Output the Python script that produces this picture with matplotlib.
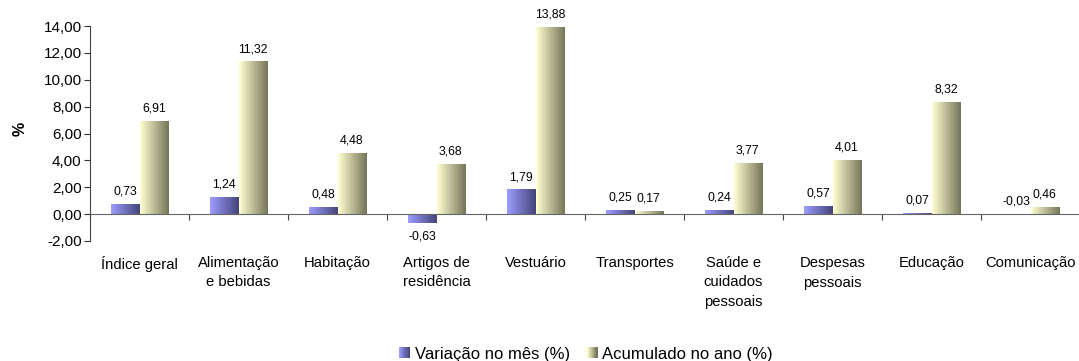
import matplotlib
matplotlib.use("Agg")
import matplotlib.pyplot as plt
import numpy as np
from matplotlib.colors import LinearSegmentedColormap, to_rgb
from matplotlib.patches import Rectangle
from matplotlib.legend_handler import HandlerBase
import matplotlib.transforms as mtransforms

plt.rcParams['font.family'] = ['Liberation Sans', 'DejaVu Sans']

categories = ["Índice geral", "Alimentação\ne bebidas", "Habitação", "Artigos de\nresidência",
              "Vestuário", "Transportes", "Saúde e\ncuidados\npessoais", "Despesas\npessoais",
              "Educação", "Comunicação"]
variacao_mes = [0.73, 1.24, 0.48, -0.63, 1.79, 0.25, 0.24, 0.57, 0.07, -0.03]
acumulado_ano = [6.91, 11.32, 4.48, 3.68, 13.88, 0.17, 3.77, 4.01, 8.32, 0.46]
series_names = ["Variação no mês (%)", "Acumulado no ano (%)"]
yticks = [-2, 0, 2, 4, 6, 8, 10, 12, 14]

blue_grad = ("#9C9CFF", "#45457A")
yellow_grad = ("#FFFFD2", "#75755A")

W, H = 1079, 361
fig = plt.figure(figsize=(W/100, H/100), dpi=100)
ax = fig.add_axes([90/W, 1-241/H, 990/W, (241-26)/H])

x = np.arange(len(categories))
bw = 0.29

def fmt(v):
    return f"{v:.2f}".replace(".", ",")

def grad_bars(xpos, vals, cols):
    bars = ax.bar(xpos, vals, width=bw, facecolor='none', edgecolor='none', zorder=2)
    cmap = LinearSegmentedColormap.from_list("g", list(cols))
    grad = np.linspace(0, 1, 64).reshape(1, -1)
    for b in bars:
        x0, w = b.get_x(), b.get_width()
        y0, h = b.get_y(), b.get_height()
        ax.imshow(grad, cmap=cmap, extent=[x0, x0 + w, min(y0, y0 + h), max(y0, y0 + h)],
                  aspect='auto', interpolation='bilinear', zorder=2)
    return bars

b1 = grad_bars(x - bw/2, variacao_mes, blue_grad)
b2 = grad_bars(x + bw/2, acumulado_ano, yellow_grad)

ax.set_xlim(-0.5, len(categories) - 0.5)
ax.set_ylim(-2, 14)
ax.set_yticks(yticks)
ax.set_yticklabels([fmt(v) for v in yticks], fontsize=11)
ax.tick_params(axis='y', direction='out', length=4, width=0.8, pad=2, colors='#333333')
ax.tick_params(axis='y', labelcolor='black')

for s in ['top', 'right']:
    ax.spines[s].set_visible(False)
ax.spines['left'].set_color('#444444')
ax.spines['bottom'].set_position(('data', 0))
ax.spines['bottom'].set_color('#666666')
ax.spines['bottom'].set_zorder(3)
ax.set_xticks(np.arange(-0.5, len(categories)), minor=False)
ax.set_xticklabels([])
ax.tick_params(axis='x', direction='out', length=4, width=0.8, colors='#444444')

# category labels
trans = mtransforms.blended_transform_factory(ax.transData, fig.transFigure)
for i, c in enumerate(categories):
    ax.text(i, 1 - 256/H, c, transform=trans, ha='center', va='top', fontsize=10.6,
            linespacing=1.5, clip_on=False)

# data labels
for xs, vals in [(x - bw/2, variacao_mes), (x + bw/2, acumulado_ano)]:
    for xi, v in zip(xs, vals):
        if v >= -0.1:
            ax.annotate(fmt(v), (xi, max(v, 0)), xytext=(0, 5), textcoords='offset points',
                        ha='center', va='bottom', fontsize=8.8)
        else:
            ax.annotate(fmt(v), (xi, v), xytext=(0, -6), textcoords='offset points',
                        ha='center', va='top', fontsize=8.8)

fig.text(20/W, 1 - 129/H, "%", rotation=90, fontsize=11.5, fontweight='bold',
         ha='center', va='center')

class GradHandler(HandlerBase):
    def __init__(self, cols):
        super().__init__()
        self.cols = cols
    def create_artists(self, legend, orig_handle, xdescent, ydescent, width, height, fontsize, trans):
        c0, c1 = np.array(to_rgb(self.cols[0])), np.array(to_rgb(self.cols[1]))
        n = 10
        size = height
        x0 = -xdescent + (width - size) / 2
        arts = []
        for k in range(n):
            col = c0 + (c1 - c0) * k / (n - 1)
            r = Rectangle((x0 + size * k / n, -ydescent), size / n + 0.05, size,
                          facecolor=col, edgecolor='none', transform=trans)
            arts.append(r)
        return arts

h1 = Rectangle((0, 0), 1, 1)
h2 = Rectangle((0, 0), 1, 1)
fig.legend([h1, h2], series_names, loc='center', bbox_to_anchor=(586/W, 1 - 354/H),
           ncol=2, frameon=False, fontsize=12, handlelength=0.65, handleheight=0.65,
           handletextpad=0.3, columnspacing=1.0, borderpad=0.1,
           handler_map={h1: GradHandler(blue_grad), h2: GradHandler(yellow_grad)})

fig.savefig("out.png", dpi=100)
